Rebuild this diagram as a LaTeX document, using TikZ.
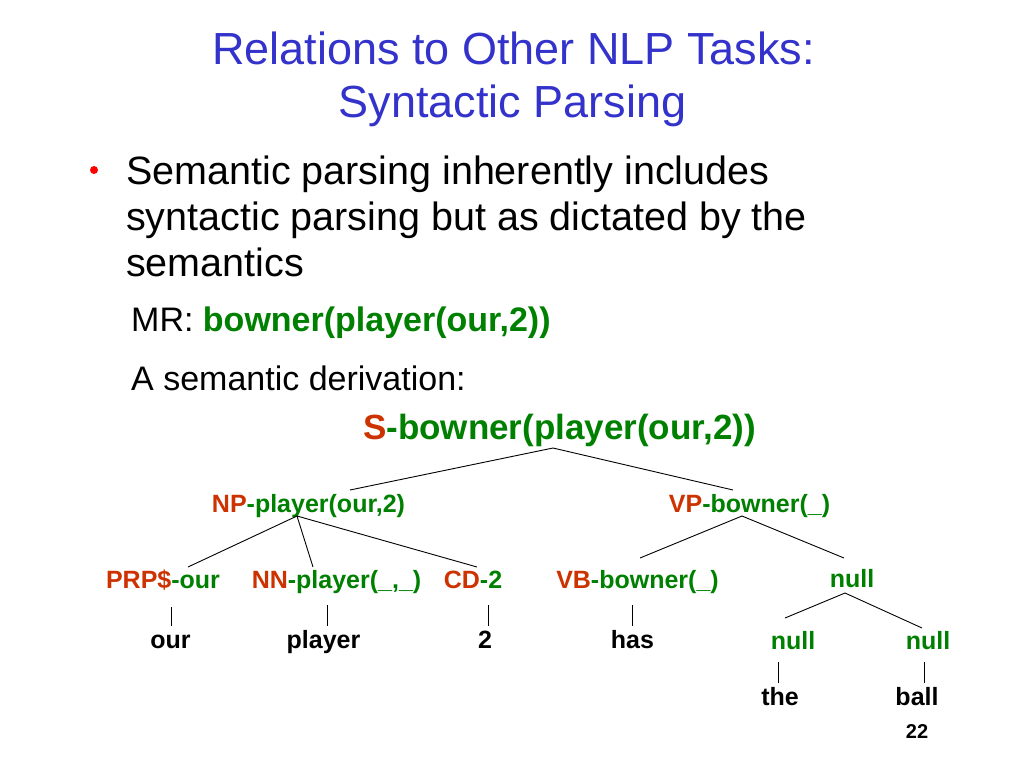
\documentclass[tikz,border=0pt]{standalone}
\usepackage{fontspec}
\setmainfont{Liberation Sans}
\definecolor{ttl}{RGB}{51,51,204}
\definecolor{cat}{RGB}{204,51,0}
\definecolor{sem}{RGB}{0,128,0}
\begin{document}
\begin{tikzpicture}[x=1pt,y=-1pt,
  title/.style={text=ttl,font=\fontsize{45}{45}\selectfont,anchor=base,inner sep=0pt},
  body/.style={font=\fontsize{39.5}{39.5}\selectfont,anchor=base west,inner sep=0pt},
  sub/.style={font=\fontsize{34}{34}\selectfont,anchor=base west,inner sep=0pt},
  lab/.style={font=\bfseries\fontsize{25}{25}\selectfont,text=sem,anchor=base,inner sep=0pt},
  leaf/.style={font=\bfseries\fontsize{25}{25}\selectfont,anchor=base,inner sep=0pt},
  edge/.style={line width=0.9pt,black}]
\useasboundingbox (0,0) rectangle (1024,768);
\fill[white] (0,0) rectangle (1024,768);
\node[title] (t1) at (513.5,64) {Relations to Other NLP Tasks:};
\node[title] (t2) at (512.5,117) {Syntactic Parsing};
\fill[red] (94,170) circle (4);
\node[body] (b1) at (126,184) {Semantic parsing inherently includes};
\node[body] (b2) at (126,230) {syntactic parsing but as dictated by the};
\node[body] (b3) at (126,276) {semantics};
\node[sub] (mr) at (131,331) {MR: \textcolor{sem}{\bfseries bowner(player(our,2))}};
\node[sub] (der) at (131,390) {A semantic derivation:};
\node[lab,font=\bfseries\fontsize{35}{35}\selectfont] (S) at (559.5,439) {\textcolor{cat}{S}-bowner(player(our,2))};
\node[lab] (NP) at (308.5,512) {\textcolor{cat}{NP}-player(our,2)};
\node[lab] (VP) at (749.5,512) {\textcolor{cat}{VP}-bowner(\_)};
\node[lab] (PRP) at (163,588) {\textcolor{cat}{PRP\$}-our};
\node[lab] (NN) at (336.5,588) {\textcolor{cat}{NN}-player(\_,\_)};
\node[lab] (CD) at (473,588) {\textcolor{cat}{CD}-2};
\node[lab] (VB) at (637.5,588) {\textcolor{cat}{VB}-bowner(\_)};
\node[lab] (N0) at (852,587) {null};
\node[leaf] (our) at (170.5,648) {our};
\node[leaf] (player) at (323.5,648) {player};
\node[leaf] (two) at (485,648) {2};
\node[leaf] (has) at (632.5,648) {has};
\node[lab] (N1) at (793,649) {null};
\node[lab] (N2) at (928,649) {null};
\node[leaf] (the) at (780,705) {the};
\node[leaf] (ball) at (917,705) {ball};
\node[leaf,font=\bfseries\fontsize{20}{20}\selectfont] (pg) at (917,738) {22};
% connector end points
\coordinate (Sa) at (553,448);
\coordinate (NPt) at (350,490);
\coordinate (VPt) at (733,490);
\coordinate (NPa) at (297,516);
\coordinate (PRPt) at (188,567);
\coordinate (NNt) at (313,567);
\coordinate (CDt) at (477,567);
\coordinate (VPa) at (742,516);
\coordinate (VBt) at (640,558);
\coordinate (N0t) at (844,558);
\coordinate (N0a) at (845,593);
\coordinate (N1t) at (785,618);
\coordinate (N2t) at (922,628);
\coordinate (ourT) at (171,607);  \coordinate (ourB) at (171,626);
\coordinate (plT) at (327,605);   \coordinate (plB) at (327,626);
\coordinate (twoT) at (488,605);  \coordinate (twoB) at (488,626);
\coordinate (hasT) at (632,605);  \coordinate (hasB) at (632,626);
\coordinate (theT) at (778,662);  \coordinate (theB) at (778,683);
\coordinate (ballT) at (924,662); \coordinate (ballB) at (924,683);
\draw[edge] (NPt) -- (Sa) -- (VPt);
\draw[edge] (NPa) -- (PRPt);
\draw[edge] (NPa) -- (NNt);
\draw[edge] (NPa) -- (CDt);
\draw[edge] (VPa) -- (VBt);
\draw[edge] (VPa) -- (N0t);
\draw[edge] (N0a) -- (N1t);
\draw[edge] (N0a) -- (N2t);
\draw[edge] (ourT) -- (ourB);
\draw[edge] (plT) -- (plB);
\draw[edge] (twoT) -- (twoB);
\draw[edge] (hasT) -- (hasB);
\draw[edge] (theT) -- (theB);
\draw[edge] (ballT) -- (ballB);
\end{tikzpicture}
\end{document}
